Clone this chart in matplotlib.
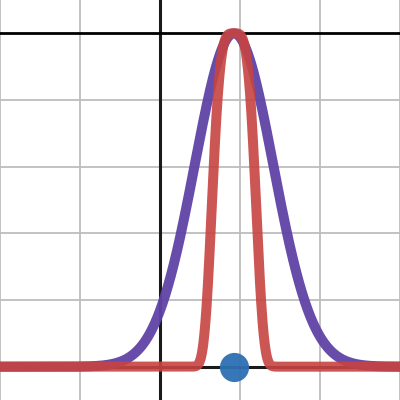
import numpy as np
import matplotlib.pyplot as plt

# parameters
mu = 0.925          # centre of both curves (blue point sits there)
sigma = 0.49        # width of the gaussian (purple)
s4 = 0.30           # width of the quartic bump (red)
point_x = [0.925]
point_y = [0.0]

xlim = (-2, 3)
ylim = (-0.1, 1.1)
x_grid = [-2, -1, 1, 2, 3]
y_grid = [0.2, 0.4, 0.6, 0.8]

x = np.linspace(xlim[0], xlim[1], 1500)
gauss = np.exp(-(x - mu) ** 2 / (2 * sigma ** 2))
quartic = np.exp(-((x - mu) / s4) ** 4)

fig = plt.figure(figsize=(4, 4), dpi=100)
ax = fig.add_axes([0, 0, 1, 1])
ax.set_xlim(*xlim)
ax.set_ylim(*ylim)
ax.axis('off')

# grid
for gx in x_grid:
    ax.axvline(gx, color='#bdbdbd', lw=1.3, zorder=0)
for gy in y_grid:
    ax.axhline(gy, color='#bdbdbd', lw=1.3, zorder=0)

# axes
ax.axvline(0, color='#1a1a1a', lw=2.2, zorder=1)
ax.axhline(0, color='#1a1a1a', lw=2.2, zorder=1)
# line y = 1
ax.axhline(1, color='black', lw=2.0, zorder=1)

ax.plot(x, gauss, color='#6042a6', lw=7.2, alpha=0.95, solid_capstyle='round', zorder=2)
ax.plot(x, quartic, color='#c74440', lw=7.2, alpha=0.9, solid_capstyle='round', zorder=3)
ax.plot(point_x, point_y, 'o', color='#2d70b3', ms=21, alpha=0.95, mec='none', zorder=4)

fig.savefig('out.png', dpi=100)
